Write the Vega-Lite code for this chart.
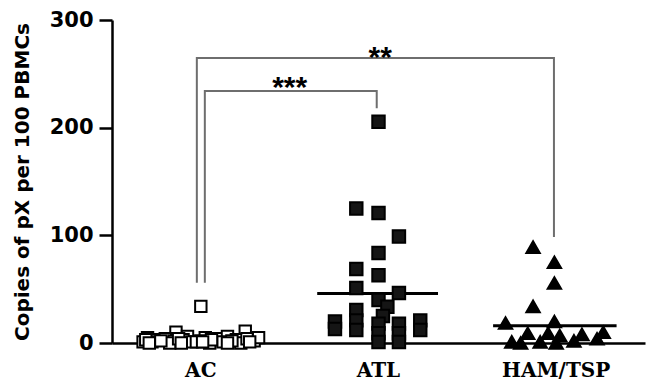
{
  "$schema": "https://vega.github.io/schema/vega-lite/v6.json",
  "width": 533,
  "height": 323,
  "autosize": {"type": "none"},
  "padding": {"left": 112, "top": 20, "right": 4, "bottom": 42},
  "background": "white",
  "config": {"view": {"stroke": null}},
  "datasets": {
    "points": [
      {"group": "AC", "value": 34, "jitter": 0},
      {"group": "AC", "value": 10, "jitter": -0.28},
      {"group": "AC", "value": 11, "jitter": 0.5},
      {"group": "AC", "value": 5, "jitter": -0.6},
      {"group": "AC", "value": 3, "jitter": -0.5},
      {"group": "AC", "value": 1, "jitter": -0.55},
      {"group": "AC", "value": 4, "jitter": -0.4},
      {"group": "AC", "value": 2, "jitter": -0.3},
      {"group": "AC", "value": 0, "jitter": -0.35},
      {"group": "AC", "value": 6, "jitter": -0.15},
      {"group": "AC", "value": 3, "jitter": -0.2},
      {"group": "AC", "value": 1, "jitter": -0.1},
      {"group": "AC", "value": 5, "jitter": 0.05},
      {"group": "AC", "value": 2, "jitter": 0.0},
      {"group": "AC", "value": 0, "jitter": 0.1},
      {"group": "AC", "value": 4, "jitter": 0.2},
      {"group": "AC", "value": 6, "jitter": 0.3},
      {"group": "AC", "value": 1, "jitter": 0.25},
      {"group": "AC", "value": 3, "jitter": 0.4},
      {"group": "AC", "value": 0, "jitter": 0.45},
      {"group": "AC", "value": 2, "jitter": 0.6},
      {"group": "AC", "value": 5, "jitter": 0.65},
      {"group": "AC", "value": 1, "jitter": -0.65},
      {"group": "AC", "value": 3, "jitter": -0.62},
      {"group": "AC", "value": 2, "jitter": -0.45},
      {"group": "AC", "value": 4, "jitter": -0.25},
      {"group": "AC", "value": 1, "jitter": -0.05},
      {"group": "AC", "value": 3, "jitter": 0.12},
      {"group": "AC", "value": 2, "jitter": 0.35},
      {"group": "AC", "value": 4, "jitter": 0.52},
      {"group": "AC", "value": 0, "jitter": -0.22},
      {"group": "AC", "value": 1, "jitter": 0.55},
      {"group": "AC", "value": 0, "jitter": -0.58},
      {"group": "AC", "value": 0, "jitter": 0.3},
      {"group": "AC", "value": 1, "jitter": 0.02},
      {"group": "ATL", "value": 205.5, "jitter": 0},
      {"group": "ATL", "value": 125, "jitter": -0.25},
      {"group": "ATL", "value": 120.7, "jitter": 0},
      {"group": "ATL", "value": 99, "jitter": 0.23},
      {"group": "ATL", "value": 83.5, "jitter": 0},
      {"group": "ATL", "value": 68.7, "jitter": -0.25},
      {"group": "ATL", "value": 63, "jitter": 0},
      {"group": "ATL", "value": 51, "jitter": -0.25},
      {"group": "ATL", "value": 46.4, "jitter": 0.23},
      {"group": "ATL", "value": 40, "jitter": 0},
      {"group": "ATL", "value": 33.6, "jitter": 0.1},
      {"group": "ATL", "value": 30.6, "jitter": -0.25},
      {"group": "ATL", "value": 21, "jitter": -0.25},
      {"group": "ATL", "value": 20, "jitter": -0.49},
      {"group": "ATL", "value": 13, "jitter": -0.49},
      {"group": "ATL", "value": 21, "jitter": 0.47},
      {"group": "ATL", "value": 12, "jitter": 0.47},
      {"group": "ATL", "value": 25, "jitter": 0.05},
      {"group": "ATL", "value": 18, "jitter": 0},
      {"group": "ATL", "value": 18, "jitter": 0.23},
      {"group": "ATL", "value": 12, "jitter": -0.25},
      {"group": "ATL", "value": 9, "jitter": 0},
      {"group": "ATL", "value": 9, "jitter": 0.23},
      {"group": "ATL", "value": 1, "jitter": 0},
      {"group": "ATL", "value": 1, "jitter": 0.23},
      {"group": "HAM/TSP", "value": 89, "jitter": -0.26},
      {"group": "HAM/TSP", "value": 75, "jitter": -0.02},
      {"group": "HAM/TSP", "value": 55.7, "jitter": -0.02},
      {"group": "HAM/TSP", "value": 34, "jitter": -0.26},
      {"group": "HAM/TSP", "value": 20, "jitter": -0.02},
      {"group": "HAM/TSP", "value": 18.6, "jitter": -0.57},
      {"group": "HAM/TSP", "value": 10, "jitter": 0.53},
      {"group": "HAM/TSP", "value": 9, "jitter": -0.32},
      {"group": "HAM/TSP", "value": 9, "jitter": -0.09},
      {"group": "HAM/TSP", "value": 8, "jitter": 0.29},
      {"group": "HAM/TSP", "value": 7, "jitter": 0.04},
      {"group": "HAM/TSP", "value": 4, "jitter": 0.46},
      {"group": "HAM/TSP", "value": 1, "jitter": -0.5},
      {"group": "HAM/TSP", "value": 1, "jitter": -0.18},
      {"group": "HAM/TSP", "value": 0, "jitter": 0},
      {"group": "HAM/TSP", "value": 2, "jitter": 0.2},
      {"group": "HAM/TSP", "value": 0, "jitter": -0.4}
    ],
    "means": [
      {"group": "AC", "value": 4, "jitter": -0.7},
      {"group": "AC", "value": 4, "jitter": 0.7},
      {"group": "ATL", "value": 46, "jitter": -0.69},
      {"group": "ATL", "value": 46, "jitter": 0.67},
      {"group": "HAM/TSP", "value": 16, "jitter": -0.71},
      {"group": "HAM/TSP", "value": 16, "jitter": 0.68}
    ],
    "brackets": [
      {"pair": "AC-HAM/TSP", "step": 1, "group": "AC", "jitter": -0.045, "value": 56},
      {"pair": "AC-HAM/TSP", "step": 2, "group": "AC", "jitter": -0.045, "value": 264.6},
      {"pair": "AC-HAM/TSP", "step": 3, "group": "HAM/TSP", "jitter": -0.025, "value": 264.6},
      {"pair": "AC-HAM/TSP", "step": 4, "group": "HAM/TSP", "jitter": -0.025, "value": 98.4},
      {"pair": "AC-ATL", "step": 1, "group": "AC", "jitter": 0.045, "value": 56},
      {"pair": "AC-ATL", "step": 2, "group": "AC", "jitter": 0.045, "value": 234},
      {"pair": "AC-ATL", "step": 3, "group": "ATL", "jitter": -0.02, "value": 234},
      {"pair": "AC-ATL", "step": 4, "group": "ATL", "jitter": -0.02, "value": 218}
    ],
    "stars": [
      {"label": "***", "group": "AC", "jitter": 1.0, "value": 243},
      {"label": "**", "group": "ATL", "jitter": 0.02, "value": 271}
    ]
  },
  "encoding": {
    "x": {
      "field": "group", "type": "nominal",
      "scale": {"domain": ["AC", "ATL", "HAM/TSP"], "paddingInner": 0, "paddingOuter": 0},
      "axis": {
        "title": null, "ticks": false, "labelAngle": 0,
        "domainColor": "black", "domainWidth": 2.5,
        "labelFont": "DejaVu Serif", "labelFontWeight": "bold", "labelFontSize": 20,
        "labelColor": "black", "labelPadding": 17
      }
    },
    "xOffset": {"field": "jitter", "type": "quantitative", "scale": {"domain": [-1, 1]}},
    "y": {
      "field": "value", "type": "quantitative",
      "scale": {"domain": [0, 300], "nice": false},
      "axis": {
        "title": "Copies of pX per 100 PBMCs", "values": [0, 100, 200, 300],
        "grid": false, "domainColor": "black", "domainWidth": 2.5,
        "tickColor": "black", "tickWidth": 2.5, "tickSize": 13,
        "labelFont": "DejaVu Sans", "labelFontWeight": "bold", "labelFontSize": 21,
        "labelColor": "black", "labelPadding": 6,
        "titleFont": "DejaVu Sans", "titleFontWeight": "bold", "titleFontSize": 20,
        "titleColor": "black", "titlePadding": 17
      }
    }
  },
  "layer": [
    {
      "data": {"name": "brackets"},
      "mark": {"type": "line", "color": "#6e6e6e", "strokeWidth": 2},
      "encoding": {
        "detail": {"field": "pair"},
        "order": {"field": "step", "type": "quantitative"}
      }
    },
    {
      "data": {"name": "means"},
      "mark": {"type": "line", "color": "black", "strokeWidth": 3},
      "encoding": {"detail": {"field": "group"}}
    },
    {
      "data": {"name": "points"},
      "mark": {"type": "point", "filled": false, "strokeWidth": 2, "opacity": 1},
      "encoding": {
        "shape": {"field": "group", "type": "nominal", "scale": {"domain": ["AC", "ATL", "HAM/TSP"], "range": ["square", "square", "triangle-up"]}, "legend": null},
        "fill": {"field": "group", "type": "nominal", "scale": {"domain": ["AC", "ATL", "HAM/TSP"], "range": ["white", "#151515", "black"]}, "legend": null},
        "stroke": {"field": "group", "type": "nominal", "scale": {"domain": ["AC", "ATL", "HAM/TSP"], "range": ["black", "black", "black"]}, "legend": null},
        "size": {"field": "group", "type": "nominal", "scale": {"domain": ["AC", "ATL", "HAM/TSP"], "range": [130, 180, 140]}, "legend": null}
      }
    },
    {
      "data": {"name": "stars"},
      "mark": {"type": "text", "font": "Liberation Sans", "fontWeight": "bold", "fontSize": 30, "baseline": "middle", "dy": 7, "color": "black"},
      "encoding": {"text": {"field": "label"}}
    }
  ]
}
